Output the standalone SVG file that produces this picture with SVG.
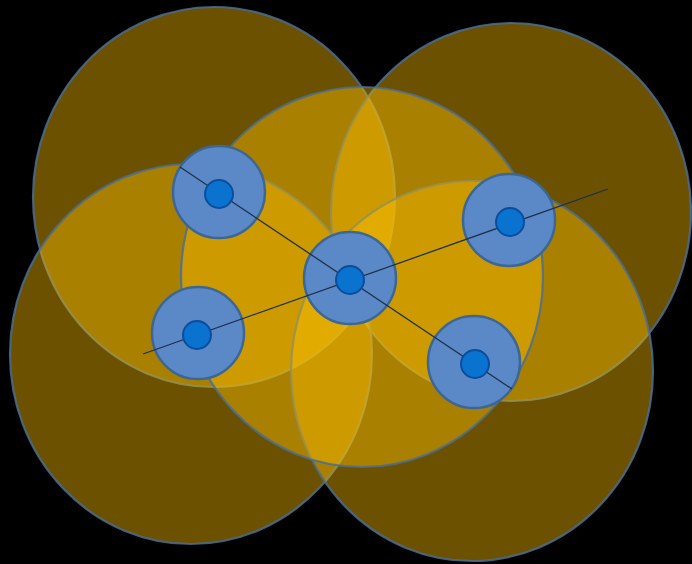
<svg xmlns="http://www.w3.org/2000/svg" width="692" height="564" viewBox="0 0 692 564">
<style>
.range{fill:#FFC000;fill-opacity:0.42;stroke:#4a6f96;stroke-width:2.2;stroke-opacity:0.85}
.outer{fill:#5b89c8;stroke:#3c6795;stroke-width:2.5}
.inner{fill:#0a73cf;stroke:#0a4d9c;stroke-width:2}
.link{stroke:#1f3048;stroke-width:1.3;fill:none}
</style>
<rect width="692" height="564" fill="#000"/>
<g id="ranges">
<ellipse id="range-tl" class="range" cx="214" cy="197" rx="181" ry="190"/>
<ellipse id="range-tr" class="range" cx="511" cy="212" rx="180" ry="189"/>
<ellipse id="range-bl" class="range" cx="191" cy="354" rx="181" ry="190"/>
<ellipse id="range-br" class="range" cx="472" cy="371" rx="181" ry="190"/>
<ellipse id="range-c" class="range" cx="362" cy="277" rx="181" ry="190"/>
</g>
<g id="node1-outer"><circle class="outer" cx="219" cy="192" r="46"/></g>
<g id="node2-outer"><circle class="outer" cx="350" cy="278" r="46"/></g>
<g id="node3-outer"><circle class="outer" cx="509" cy="220" r="46"/></g>
<g id="node4-outer"><circle class="outer" cx="198" cy="333" r="46"/></g>
<g id="node5-outer"><circle class="outer" cx="474" cy="362" r="46"/></g>
<g id="connectors">
<line class="link" x1="180" y1="167" x2="512" y2="389"/>
<line class="link" x1="143" y1="354" x2="608" y2="189"/>
</g>
<g id="node1"><circle class="inner" cx="219" cy="194" r="14"/></g>
<g id="node2"><circle class="inner" cx="350" cy="280" r="14"/></g>
<g id="node3"><circle class="inner" cx="510" cy="222" r="14"/></g>
<g id="node4"><circle class="inner" cx="197" cy="335" r="14"/></g>
<g id="node5"><circle class="inner" cx="475" cy="364" r="14"/></g>
</svg>
